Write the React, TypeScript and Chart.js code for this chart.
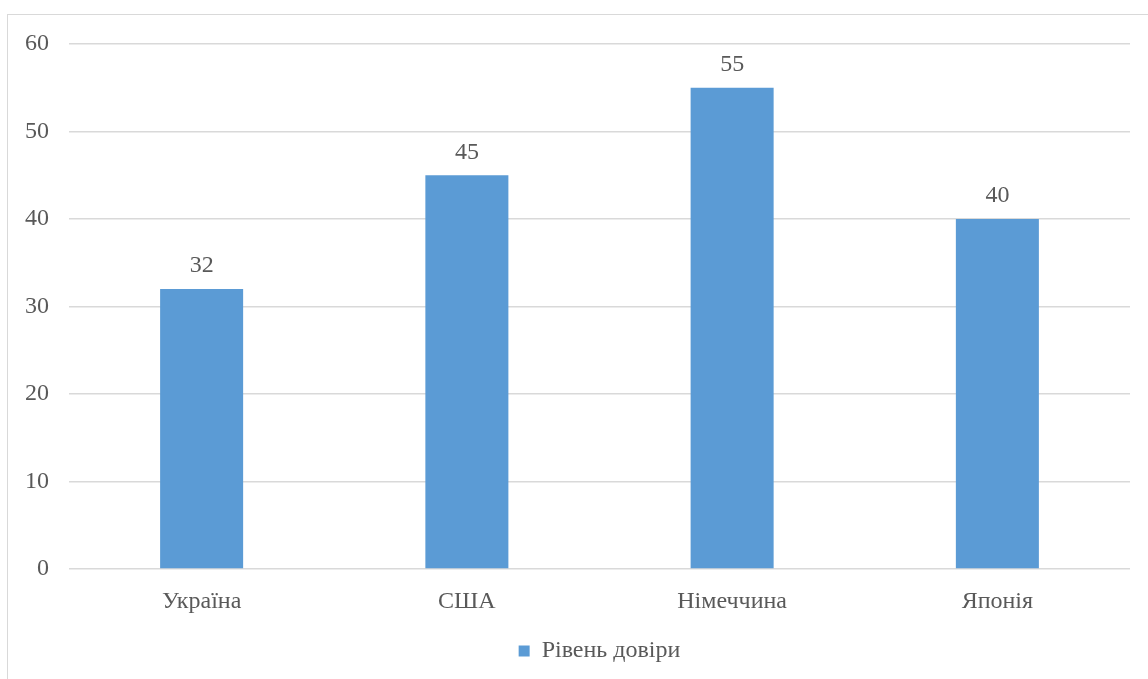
import React, { useEffect, useRef } from "react";
import { Chart, registerables } from "chart.js";

Chart.register(...registerables);

const categories = ["Україна", "США", "Німеччина", "Японія"];
const seriesName = "Рівень довіри";
const values = [32, 45, 55, 40];
const yTicks = [0, 10, 20, 30, 40, 50, 60];

const TEXT = "#595959";
const FONT = "'Liberation Serif', 'Times New Roman', serif";
const FS = 24;

const valueLabels = {
  id: "valueLabels",
  afterDatasetsDraw(chart: any) {
    const ctx = chart.ctx;
    ctx.save();
    ctx.fillStyle = TEXT;
    ctx.font = `${FS}px ${FONT}`;
    ctx.textAlign = "center";
    ctx.textBaseline = "middle";
    chart.data.datasets.forEach((ds: any, i: number) => {
      const meta = chart.getDatasetMeta(i);
      meta.data.forEach((el: any, j: number) => {
        ctx.fillText(String(ds.data[j]), el.x, el.y - 23);
      });
    });
    ctx.restore();
  },
};

export default function App() {
  const ref = useRef<HTMLCanvasElement>(null);
  useEffect(() => {
    if (!ref.current) return;
    const chart = new Chart(ref.current, {
      type: "bar",
      data: {
        labels: categories,
        datasets: [
          {
            label: seriesName,
            data: values,
            backgroundColor: "#5B9BD5",
            borderWidth: 0,
            barPercentage: 0.313,
            categoryPercentage: 1,
          },
        ],
      },
      plugins: [valueLabels],
      options: {
        animation: false,
        responsive: false,
        devicePixelRatio: 1,
        layout: { padding: { left: 0, right: 18, top: 44, bottom: 6 } },
        plugins: {
          tooltip: { enabled: false },
          legend: {
            position: "bottom",
            fullSize: false,
            labels: {
              boxWidth: 11,
              boxHeight: 11,
              color: TEXT,
              font: { family: FONT, size: FS },
              padding: 10,
            },
          },
        },
        scales: {
          x: {
            grid: { display: false, drawTicks: false },
            border: { display: false },
            ticks: { color: TEXT, font: { family: FONT, size: FS }, padding: 18 },
            afterFit: (s: any) => {
              s.height = 60;
            },
          },
          y: {
            min: 0,
            max: 60,
            afterBuildTicks: (s: any) => {
              s.ticks = yTicks.map((v) => ({ value: v }));
            },
            grid: { color: "#D9D9D9", lineWidth: 1.5, drawTicks: false },
            border: { display: false },
            ticks: { color: TEXT, font: { family: FONT, size: FS }, padding: 20 },
            afterFit: (s: any) => {
              s.width = 69;
            },
          },
        },
      },
    });
    return () => chart.destroy();
  }, []);
  return (
    <div
      style={{
        position: "fixed",
        left: 0,
        top: 0,
        width: 1148,
        height: 679,
        overflow: "hidden",
        background: "#fff",
      }}
    >
      <div
        style={{
          position: "absolute",
          left: 7,
          top: 14,
          width: 1200,
          height: 700,
          border: "1.5px solid #D9D9D9",
        }}
      />
      <canvas
        ref={ref}
        width={1148}
        height={679}
        style={{ position: "absolute", left: 0, top: 0 }}
      />
    </div>
  );
}
